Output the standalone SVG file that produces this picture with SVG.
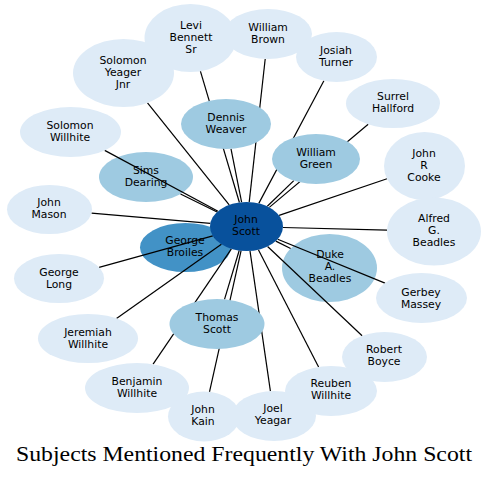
<svg xmlns="http://www.w3.org/2000/svg" width="489" height="477" viewBox="0 0 489 477">
<style>
.l{fill:#deebf7}
.m{fill:#9ecae1}
.g{fill:#4292c6}
.c{fill:#08519c}
text{font-family:"DejaVu Sans",sans-serif;font-size:10.8px;fill:#000;text-anchor:middle}
.e line{stroke:#000;stroke-width:1.2}
.t{font-family:"Liberation Serif",serif;font-size:21px}
</style>
<rect width="489" height="477" fill="#fff"/>
<g id="n-sims-dearing"><ellipse class="m" cx="146" cy="177" rx="47" ry="25"/><text x="146" y="174">Sims</text><text x="146" y="186">Dearing</text></g>
<g id="n-george-broiles"><ellipse class="g" cx="185.5" cy="247.5" rx="45.5" ry="24.5"/><text x="185" y="244">George</text><text x="185" y="256">Broiles</text></g>
<g id="n-duke-beadles"><ellipse class="m" cx="329.5" cy="268" rx="47.5" ry="34"/><text x="330" y="258">Duke</text><text x="330" y="270">A.</text><text x="330" y="282">Beadles</text></g>
<g id="edges" class="e">
<line x1="200.4" y1="71.2" x2="239.4" y2="202.5"/>
<line x1="265.2" y1="59" x2="249.2" y2="202.1"/>
<line x1="323.9" y1="80.8" x2="258.8" y2="203.4"/>
<line x1="368.2" y1="124.3" x2="269.3" y2="207.4"/>
<line x1="387" y1="178.8" x2="279.1" y2="215.4"/>
<line x1="387" y1="230.2" x2="283" y2="227.5"/>
<line x1="385" y1="283.1" x2="277.7" y2="239.2"/>
<line x1="290.6" y1="248.5" x2="275.8" y2="241.1"/>
<line x1="362.1" y1="335.8" x2="267.6" y2="246.5"/>
<line x1="318.6" y1="366.9" x2="258.4" y2="249.7"/>
<line x1="270.4" y1="391.1" x2="250" y2="250.9"/>
<line x1="209.5" y1="391.8" x2="241.1" y2="250.7"/>
<line x1="224.5" y1="299.3" x2="239.2" y2="250.5"/>
<line x1="153.1" y1="364.2" x2="231.4" y2="248.8"/>
<line x1="116.5" y1="318.4" x2="221.4" y2="244.3"/>
<line x1="99.1" y1="267.4" x2="212.8" y2="235.9"/>
<line x1="223.8" y1="234.3" x2="214" y2="237.7"/>
<line x1="180.5" y1="194" x2="217.1" y2="212"/>
<line x1="91.5" y1="213.1" x2="210.3" y2="223.4"/>
<line x1="104.7" y1="150.4" x2="218" y2="211.2"/>
<line x1="147.5" y1="102.9" x2="229.2" y2="204.9"/>
<line x1="231" y1="148.8" x2="241.6" y2="202.2"/>
<line x1="293.8" y1="180.6" x2="267.3" y2="206.3"/>
</g>
<g id="n-levi-bennett-sr"><ellipse class="l" cx="190.5" cy="38" rx="46" ry="34"/><text x="191" y="29">Levi</text><text x="191" y="41">Bennett</text><text x="191" y="53">Sr</text></g>
<g id="n-william-brown"><ellipse class="l" cx="268" cy="34" rx="44" ry="25"/><text x="268" y="31">William</text><text x="268" y="43">Brown</text></g>
<g id="n-josiah-turner"><ellipse class="l" cx="336.5" cy="57" rx="40.5" ry="25"/><text x="336" y="54">Josiah</text><text x="336" y="66">Turner</text></g>
<g id="n-surrel-hallford"><ellipse class="l" cx="393" cy="103.5" rx="47" ry="24.5"/><text x="393" y="100">Surrel</text><text x="393" y="112">Hallford</text></g>
<g id="n-john-r-cooke"><ellipse class="l" cx="424.5" cy="166" rx="40.5" ry="34"/><text x="424" y="157">John</text><text x="424" y="169">R</text><text x="424" y="181">Cooke</text></g>
<g id="n-alfred-beadles"><ellipse class="l" cx="434" cy="231.5" rx="47" ry="34"/><text x="434" y="222">Alfred</text><text x="434" y="234">G.</text><text x="434" y="246">Beadles</text></g>
<g id="n-gerbey-massey"><ellipse class="l" cx="421.5" cy="298" rx="45.5" ry="25"/><text x="421" y="296">Gerbey</text><text x="421" y="308">Massey</text></g>
<g id="n-robert-boyce"><ellipse class="l" cx="384.5" cy="357" rx="42.5" ry="25"/><text x="384" y="353">Robert</text><text x="384" y="365">Boyce</text></g>
<g id="n-reuben-willhite"><ellipse class="l" cx="331" cy="391" rx="46" ry="25"/><text x="331" y="387">Reuben</text><text x="331" y="399">Willhite</text></g>
<g id="n-joel-yeagar"><ellipse class="l" cx="274" cy="416" rx="42" ry="25"/><text x="273" y="412">Joel</text><text x="273" y="424">Yeagar</text></g>
<g id="n-benjamin-willhite"><ellipse class="l" cx="137" cy="388" rx="52" ry="25"/><text x="137" y="385">Benjamin</text><text x="137" y="397">Willhite</text></g>
<g id="n-john-kain"><ellipse class="l" cx="204" cy="416.5" rx="36" ry="25"/><text x="203" y="413">John</text><text x="203" y="425">Kain</text></g>
<g id="n-jeremiah-willhite"><ellipse class="l" cx="88" cy="338.5" rx="50" ry="24.5"/><text x="88" y="336">Jeremiah</text><text x="88" y="348">Willhite</text></g>
<g id="n-george-long"><ellipse class="l" cx="59" cy="278.5" rx="45" ry="24.5"/><text x="59" y="276">George</text><text x="59" y="288">Long</text></g>
<g id="n-john-mason"><ellipse class="l" cx="49.5" cy="209.5" rx="42.5" ry="24.5"/><text x="49" y="206">John</text><text x="49" y="218">Mason</text></g>
<g id="n-solomon-willhite"><ellipse class="l" cx="70.5" cy="132" rx="50.5" ry="25"/><text x="70" y="129">Solomon</text><text x="70" y="141">Willhite</text></g>
<g id="n-solomon-yeager-jnr"><ellipse class="l" cx="123.5" cy="73" rx="50.5" ry="34"/><text x="123" y="64">Solomon</text><text x="123" y="76">Yeager</text><text x="123" y="88">Jnr</text></g>
<g id="n-dennis-weaver"><ellipse class="m" cx="226" cy="124" rx="45" ry="25"/><text x="226" y="121">Dennis</text><text x="226" y="133">Weaver</text></g>
<g id="n-william-green"><ellipse class="m" cx="316" cy="159" rx="44" ry="25"/><text x="316" y="156">William</text><text x="316" y="168">Green</text></g>
<g id="n-thomas-scott"><ellipse class="m" cx="217" cy="324" rx="47.5" ry="25"/><text x="217" y="321">Thomas</text><text x="217" y="333">Scott</text></g>
<g id="n-john-scott"><ellipse class="c" cx="246.5" cy="226.5" rx="36.5" ry="24.5"/><text x="246" y="223">John</text><text x="246" y="235">Scott</text></g>
<text class="t" x="244" y="461" textLength="456" lengthAdjust="spacingAndGlyphs">Subjects Mentioned Frequently With John Scott</text>
</svg>
